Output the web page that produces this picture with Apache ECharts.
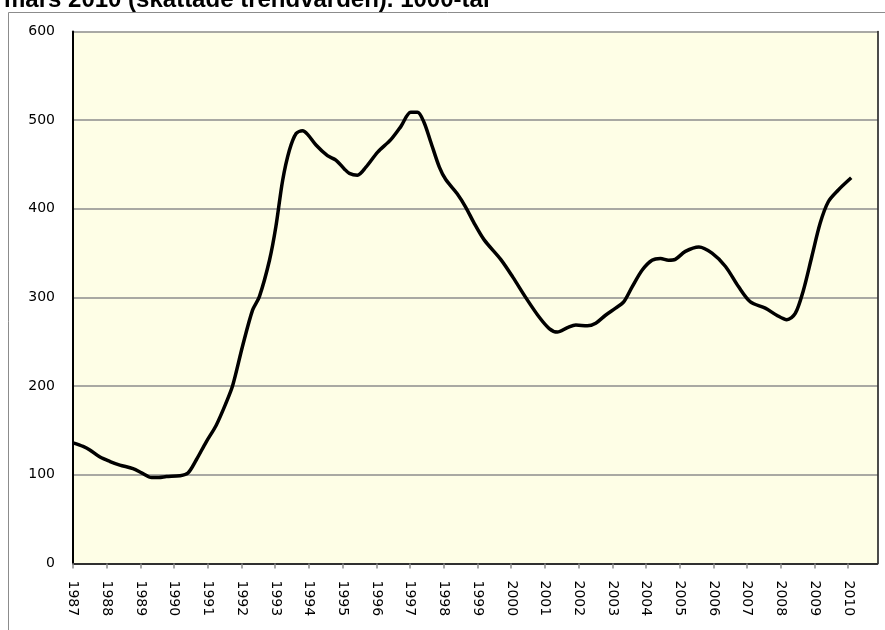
<!DOCTYPE html>
<html>
<head>
<meta charset="utf-8">
<script src="https://cdn.jsdelivr.net/npm/echarts@6/dist/echarts.min.js"></script>
<style>
  html, body { margin: 0; padding: 0; background: #fff; }
  #chart { width: 885px; height: 630px; }
</style>
</head>
<body>
<div id="chart"></div>
<script>
// tidpunkt (år, decimal) och trendvärde i 1000-tal
const years = [
  1987.00, 1987.30, 1987.50, 1987.80, 1988.10, 1988.39, 1988.78, 1989.05, 1989.33, 1989.55,
  1989.77, 1990.17, 1990.41, 1990.66, 1990.95, 1991.25, 1991.54, 1991.74, 1992.03, 1992.33,
  1992.53, 1992.83, 1993.02, 1993.22, 1993.42, 1993.62, 1993.81, 1993.96, 1994.21, 1994.55,
  1994.80, 1995.05, 1995.20, 1995.44, 1995.69, 1996.04, 1996.43, 1996.73, 1997.02, 1997.22,
  1997.41, 1997.61, 1997.87, 1998.06, 1998.40, 1998.65, 1998.90, 1999.20, 1999.69, 2000.05,
  2000.45, 2000.83, 2001.13, 2001.37, 2001.67, 2001.92, 2002.26, 2002.51, 2002.80, 2003.10,
  2003.34, 2003.59, 2003.89, 2004.18, 2004.43, 2004.67, 2004.87, 2005.17, 2005.57, 2005.96,
  2006.36, 2006.75, 2007.10, 2007.54, 2007.88, 2008.18, 2008.43, 2008.67, 2008.92, 2009.17,
  2009.41, 2009.70, 2010.09
];
const values = [
  136, 132, 128, 120, 115, 111, 107, 102, 97, 97,
  98, 99, 102, 117, 137, 156, 181, 201, 245, 286,
  301, 342, 380, 432, 466, 485, 488, 484, 472, 460,
  455, 445, 440, 438, 447, 464, 478, 493, 509, 509,
  498, 476, 447, 433, 417, 402, 384, 365, 343, 323,
  299, 278, 265, 261, 266, 269, 268, 271, 280, 288,
  295, 312, 331, 342, 344, 342, 343, 352, 357, 350,
  335, 312, 295, 288, 280, 275, 282, 308, 346, 384,
  408, 421, 435
];
const titleText = 'mars 2010 (skattade trendvärden). 1000-tal';
const yTicks = [0, 100, 200, 300, 400, 500, 600];
const firstYear = 1987;
const lastYear = 2010;

const lineData = years.map((x, i) => [x, values[i]]);

const option = {
  animation: false,
  backgroundColor: '#ffffff',
  title: {
    text: titleText,
    left: -1,
    top: -17,
    textStyle: { fontFamily: 'Liberation Sans', fontWeight: 'bold', fontSize: 24, color: '#000' }
  },
  graphic: [
    {
      type: 'rect',
      shape: { x: 8.5, y: 12.5, width: 900, height: 700 },
      style: { fill: null, stroke: '#8c8c8c', lineWidth: 1 },
      silent: true,
      z: -1
    }
  ],
  grid: {
    left: 73, right: 7.5, top: 31.5, bottom: 66.5,
    show: true,
    backgroundColor: '#fefee6',
    borderWidth: 0
  },
  xAxis: [
    {
      type: 'value',
      min: firstYear,
      max: 2010.87,
      interval: 1,
      axisLine: { show: true, lineStyle: { color: '#8c8c8c', width: 1.5 } },
      axisTick: { show: true, length: 5, lineStyle: { color: '#8c8c8c', width: 1.5 } },
      splitLine: { show: false },
      axisLabel: {
        rotate: -90,
        margin: 17,
        showMaxLabel: false,
        fontFamily: 'DejaVu Sans',
        fontSize: 14,
        color: '#000',
        formatter: v => (Number.isInteger(v) && v <= lastYear ? String(v) : '')
      }
    },
    {
      type: 'value',
      position: 'top',
      min: firstYear,
      max: 2010.87,
      axisLine: { show: true, lineStyle: { color: '#111', width: 1.5 } },
      axisTick: { show: false },
      axisLabel: { show: false },
      splitLine: { show: false }
    }
  ],
  yAxis: [
    {
      type: 'value',
      min: yTicks[0],
      max: yTicks[yTicks.length - 1],
      interval: 100,
      axisLine: { show: true, lineStyle: { color: '#000', width: 2 } },
      axisTick: { show: false },
      splitLine: { show: true, lineStyle: { color: '#8c8c8c', width: 1.5 } },
      axisLabel: {
        margin: 18,
        fontFamily: 'DejaVu Sans',
        fontSize: 14,
        color: '#000'
      }
    },
    {
      type: 'value',
      position: 'right',
      min: yTicks[0],
      max: yTicks[yTicks.length - 1],
      axisLine: { show: true, lineStyle: { color: '#111', width: 1.5 } },
      axisTick: { show: false },
      axisLabel: { show: false },
      splitLine: { show: false }
    }
  ],
  series: [
    {
      type: 'line',
      data: lineData,
      xAxisIndex: 0,
      yAxisIndex: 0,
      showSymbol: false,
      smooth: 0.3,
      lineStyle: { color: '#000', width: 3.5 },
      z: 5
    }
  ]
};

const myChart = echarts.init(document.getElementById('chart'));
myChart.setOption(option);
</script>
</body>
</html>
